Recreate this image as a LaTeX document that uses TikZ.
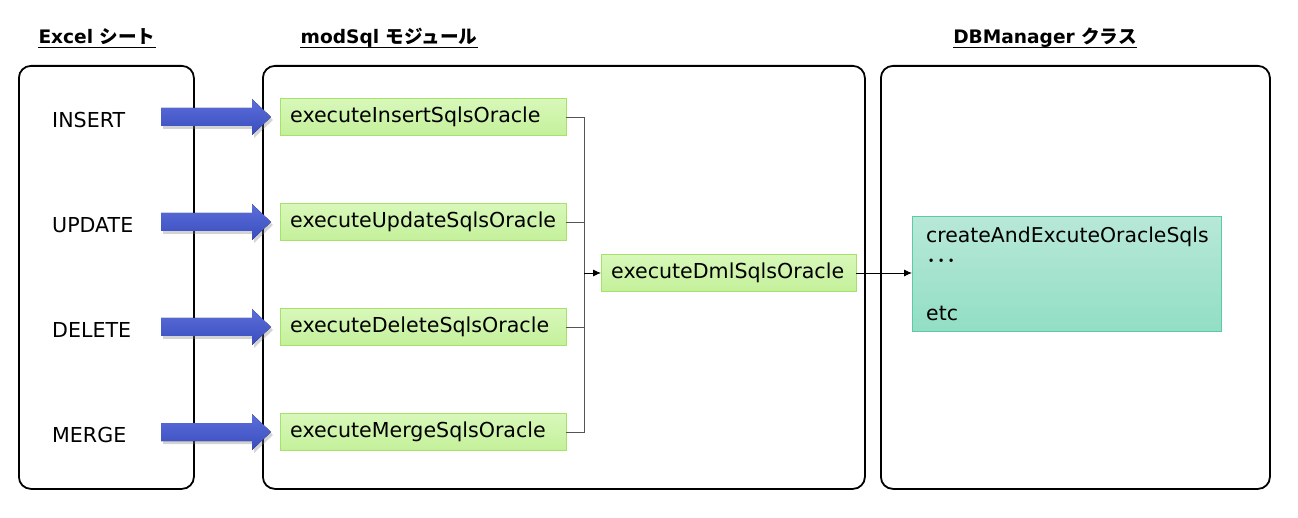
\documentclass[tikz,border=0pt]{standalone}
\usepackage{fontspec}
\setmainfont{DejaVu Sans}
\newfontfamily\cjk{Noto Sans CJK JP}
\usepackage{tikz}
\usetikzlibrary{arrows.meta,shadows,positioning}

\definecolor{arrowtop}{HTML}{5B6FDB}
\definecolor{arrowbot}{HTML}{3A4CBD}
\definecolor{functop}{HTML}{D8F8BA}
\definecolor{funcbot}{HTML}{C4F09A}
\definecolor{funcline}{HTML}{A6E26A}
\definecolor{utiltop}{HTML}{B8E8D8}
\definecolor{utilbot}{HTML}{92DEC5}
\definecolor{utilline}{HTML}{5CCBA5}
\definecolor{linkgray}{HTML}{555555}

\begin{document}
\begin{tikzpicture}[x=1pt,y=-1pt,
	panel/.style={draw, line width=1.8pt, rounded corners=12pt, anchor=north west, inner sep=0pt},
	title/.style={font=\fontsize{18.6}{20}\selectfont\bfseries, anchor=base, inner sep=0pt},
	op/.style={font=\fontsize{20.6}{24}\selectfont, anchor=west, inner sep=0pt},
	func/.style={draw=funcline, top color=functop, bottom color=funcbot, anchor=west,
		font=\fontsize{20.6}{24}\selectfont, text width=266pt, inner xsep=10pt, align=left,
		minimum height=37pt},
	util/.style={draw=utilline, top color=utiltop, bottom color=utilbot, anchor=north west,
		font=\fontsize{20.4}{26}\selectfont, text width=281pt, inner xsep=14pt, align=left,
		minimum height=115pt},
	bigarrow/.style={top color=arrowtop, bottom color=arrowbot,
		drop shadow={opacity=0.35, shadow xshift=2pt, shadow yshift=-3pt}},
	link/.style={draw=linkgray, line width=0.9pt},
	flow/.style={draw, line width=0.9pt, -{Latex[length=8pt,width=7pt]}}]
	\useasboundingbox (0,0) rectangle (1298,518);

	% headings
	\node[title] (sheetT) at (97,44) {Excel {\cjk シート}};
	\node[title] (modT) at (389,44) {modSql {\cjk モジュール}};
	\node[title] (dbT) at (1045,44) {DBManager {\cjk クラス}};
	\foreach \t in {sheetT,modT,dbT}
	\draw[line width=1.3pt] ([yshift=-3.5pt]\t.base west) -- ([yshift=-3.5pt]\t.base east);

	\node[panel, minimum width=175pt, minimum height=423pt] (sheet) at (18,65) {};
	\node[panel, minimum width=602pt, minimum height=423pt] (mod) at (262,65) {};
	\node[panel, minimum width=389pt, minimum height=423pt] (db) at (880,65) {};

	\foreach \nm/\lbl/\Op/\y in {ins/INSERT/Insert/117, upd/UPDATE/Update/222,
		del/DELETE/Delete/327, mrg/MERGE/Merge/432}
	{
		\node[op] (\nm-lbl) at (52,\y+3) {\lbl};
		\fill[bigarrow] (161,\y-9) -- (252,\y-9) -- (252,\y-18) -- (271,\y)
			-- (252,\y+18) -- (252,\y+9) -- (161,\y+9) -- cycle;
		\node[func] (\nm) at (280,\y) {execute\Op SqlsOracle};
	}

	\node[func, text width=235pt] (dml) at (601,273) {executeDmlSqlsOracle};
	\coordinate (join) at (584,273);
	\foreach \nm in {ins,upd,del,mrg}
	\draw[link] (\nm.east) -| (join);
	\draw[flow] (join) -- (dml.west);

	\node[util] (mgr) at (912,216) {createAndExcuteOracleSqls\\ {\cjk ･･･}\\[26pt] etc};
	\draw[flow] (dml.east) -- (dml.east -| mgr.west);
\end{tikzpicture}
\end{document}
